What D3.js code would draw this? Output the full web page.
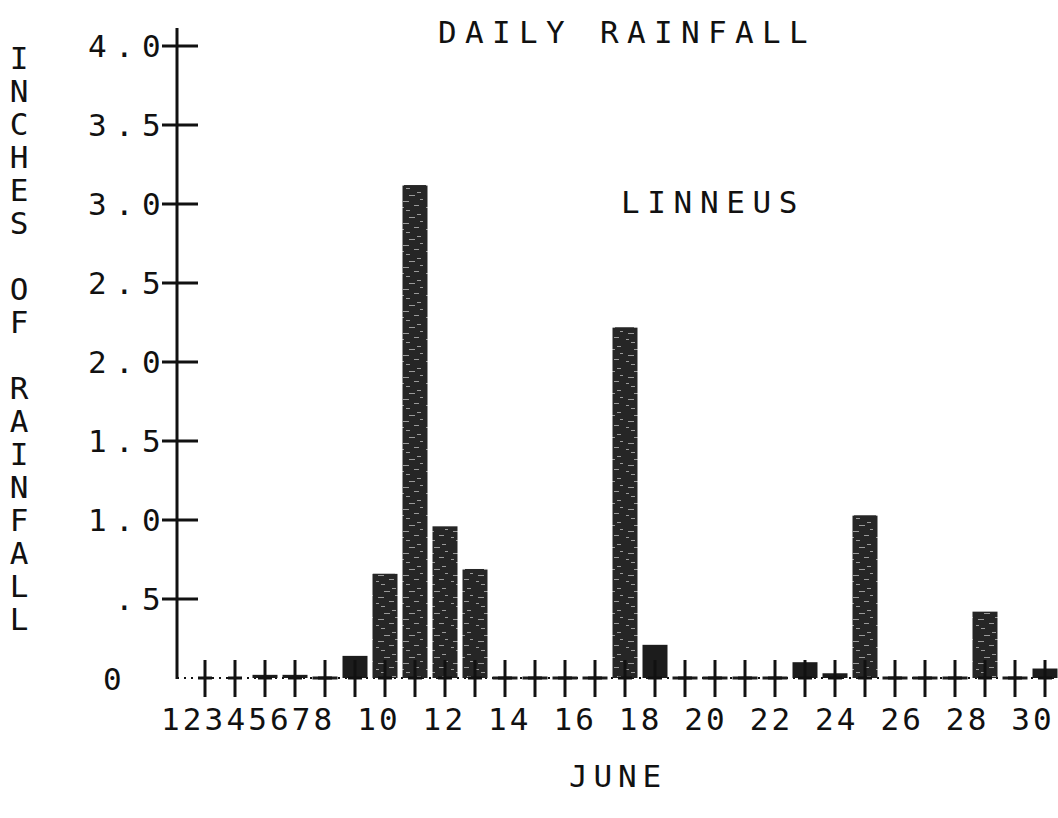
<!DOCTYPE html>
<html>
<head>
<meta charset="utf-8">
<script src="https://cdn.jsdelivr.net/npm/d3@7"></script>
<style>
  body { margin: 0; background: #fff; }
  text { font-family: "DejaVu Sans Mono", monospace; fill: #111; white-space: pre; }
</style>
</head>
<body>
<svg id="chart" width="1058" height="818"></svg>
<script>
// daily rainfall, June (null = no reading)
var days = d3.range(1, 31);
var rain = [null, null, null, 0.02, 0.02, 0, 0.14, 0.66, 3.12, 0.96,
            0.69, 0, 0, 0, 0, 2.22, 0.21, 0, 0, 0,
            0, 0.10, 0.03, 1.03, 0, 0, 0, 0.42, 0, 0.06];
var xTickLabels = ['1', '2', '3', '4', '5', '6', '7', '8', '10', '12', '14',
                   '16', '18', '20', '22', '24', '26', '28', '30'];
var yTicks = [0.5, 1.0, 1.5, 2.0, 2.5, 3.0, 3.5, 4.0];
var yTickLabels = ['.5', '1.0', '1.5', '2.0', '2.5', '3.0', '3.5', '4.0'];
var yTitle = 'INCHES OF RAINFALL';
var title = 'DAILY RAINFALL';
var station = 'LINNEUS';
var xTitle = 'JUNE';

var svg = d3.select('#chart');
var x = d3.scaleLinear().domain([1, 30]).range([175, 1045]);
var y = d3.scaleLinear().domain([0, 4]).range([678, 46]);
var axisX = 177;
var fontSize = 31;
var adv = 0.602 * fontSize;
var pitch = 27;

// bar texture, like the scanned print
var defs = svg.append('defs');
var pat = defs.append('pattern')
	.attr('id', 'ink')
	.attr('patternUnits', 'userSpaceOnUse')
	.attr('width', 25).attr('height', 22);
pat.append('rect').attr('width', 25).attr('height', 22).attr('fill', '#262626');
[[3, 3, 6], [14, 7, 5], [6, 12, 4], [17, 16, 4], [9, 19, 6], [1, 9, 3], [20, 1, 3]].forEach(function (p) {
	pat.append('rect')
		.attr('x', p[0]).attr('y', p[1])
		.attr('width', p[2]).attr('height', 1)
		.attr('fill', '#9a9a9a');
});

// dotted baseline
svg.append('line')
	.attr('x1', axisX).attr('x2', 1058)
	.attr('y1', y(0)).attr('y2', y(0))
	.attr('stroke', '#111').attr('stroke-width', 2)
	.attr('stroke-dasharray', '2,5');

// y axis
svg.append('line')
	.attr('x1', axisX).attr('x2', axisX)
	.attr('y1', y(4) - 18).attr('y2', y(0) + 1)
	.attr('stroke', '#111').attr('stroke-width', 3);

svg.selectAll('.ytick').data(yTicks).enter()
	.append('line')
	.attr('class', 'ytick')
	.attr('x1', axisX - 15).attr('x2', axisX + 21)
	.attr('y1', function (d) { return y(d); })
	.attr('y2', function (d) { return y(d); })
	.attr('stroke', '#111').attr('stroke-width', 3);

svg.selectAll('.ylab').data(yTicks).enter()
	.append('text')
	.attr('class', 'ylab')
	.attr('x', function (d, i) { return 88 + (3 - yTickLabels[i].length) * pitch; })
	.attr('y', function (d) { return y(d) + 11; })
	.style('font-size', fontSize + 'px')
	.style('letter-spacing', (pitch - adv) + 'px')
	.text(function (d, i) { return yTickLabels[i]; });

svg.append('text')
	.attr('x', 103).attr('y', y(0) + 12)
	.style('font-size', fontSize + 'px')
	.text('0');

// bars
var barData = days.map(function (d, i) { return { day: d, v: rain[i] }; })
	.filter(function (d) { return d.v !== null; });

svg.selectAll('.bar').data(barData).enter()
	.append('rect')
	.attr('class', 'bar')
	.attr('x', function (d) { return x(d.day) - 12.5; })
	.attr('width', 25)
	.attr('y', function (d) { return Math.min(y(d.v), y(0) - 1.5); })
	.attr('height', function (d) { return Math.max(y(0) - y(d.v), 3); })
	.attr('fill', function (d) { return d.v > 0.3 ? 'url(#ink)' : '#1c1c1c'; });

// day ticks (crosses)
var tickDays = days.filter(function (d) { return d > 1; });
svg.selectAll('.xtick').data(tickDays).enter()
	.append('line')
	.attr('class', 'xtick')
	.attr('x1', function (d) { return x(d); })
	.attr('x2', function (d) { return x(d); })
	.attr('y1', y(0) - 18).attr('y2', y(0) + 19)
	.attr('stroke', '#111').attr('stroke-width', 3);

svg.selectAll('.xarm').data(tickDays).enter()
	.append('line')
	.attr('class', 'xarm')
	.attr('x1', function (d) { return x(d) - 7; })
	.attr('x2', function (d) { return x(d) + 7; })
	.attr('y1', y(0)).attr('y2', y(0))
	.attr('stroke', '#111').attr('stroke-width', 3);

// day labels, printed as one text line like the original plotter
var labelLine = xTickLabels.slice(0, 8).join('') + ' ' + xTickLabels.slice(8).join(' ');
svg.append('text')
	.attr('x', 161).attr('y', 730)
	.style('font-size', fontSize + 'px')
	.style('letter-spacing', (21.8 - adv) + 'px')
	.text(labelLine);

// titles
function spaced(txt, x0, y0, p) {
	svg.append('text')
		.attr('x', x0).attr('y', y0)
		.style('font-size', fontSize + 'px')
		.style('letter-spacing', (p - adv) + 'px')
		.text(txt);
}
spaced(title, 438, 43, 27);
spaced(station, 621, 213, 26.3);
spaced(xTitle, 569, 787, 24.5);

// vertical y title, stacked letters
svg.selectAll('.ytitle').data(yTitle.split('')).enter()
	.append('text')
	.attr('class', 'ytitle')
	.attr('x', 19)
	.attr('y', function (d, i) { return 69 + i * 33; })
	.attr('text-anchor', 'middle')
	.style('font-size', fontSize + 'px')
	.text(function (d) { return d; });
</script>
</body>
</html>
